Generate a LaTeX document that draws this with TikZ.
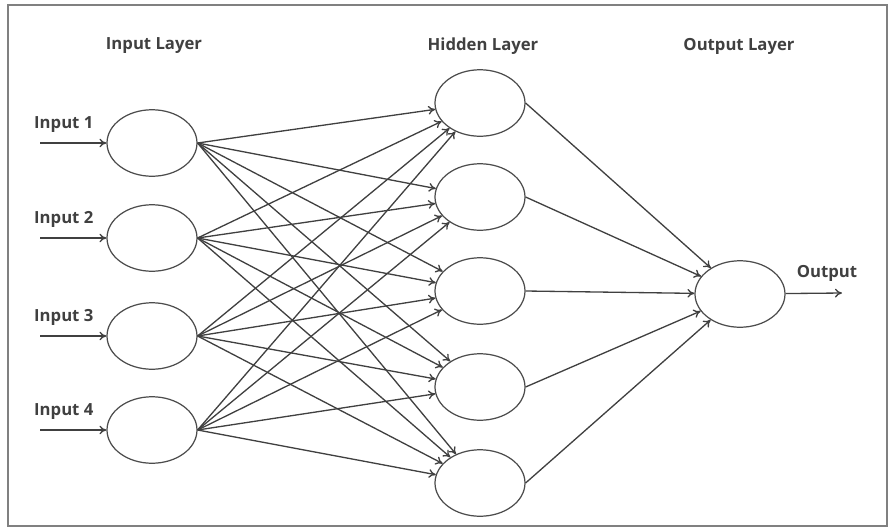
\documentclass[tikz,border=0pt]{standalone}
\usepackage{fontspec}
\setmainfont{Open Sans}
\usetikzlibrary{arrows.meta,shapes.geometric}

\begin{document}
\begin{tikzpicture}[x=0.02cm,y=-0.02cm,
  neuron/.style={draw=black!70,line width=0.7pt,ellipse,inner sep=0pt,minimum width=1.8cm,minimum height=1.33cm},
  wire/.style={draw=black!75,line width=0.75pt,-{To[length=4pt,width=5pt]}},
  lbl/.style={font=\fontsize{9.5}{11}\selectfont\bfseries,text=black!75}]
\useasboundingbox (0,0) rectangle (894,528);
\draw[black!50,line width=0.8pt] (8,5) rectangle (887,526);
% layer titles
\node[lbl] (tin) at (154,46) {Input Layer};
\node[lbl] (thid) at (483,46) {Hidden Layer};
\node[lbl] (tout) at (739,46) {Output Layer};
% neurons
\foreach \i/\y in {1/143,2/238,3/336,4/430}{
  \node[neuron] (in\i) at (152,\y) {};
  \coordinate (src\i) at (40,\y);
  \node[lbl,anchor=south west] (nin\i) at (28,\y-4) {Input \i};
  \draw[wire] (src\i) -- (in\i);
}
\foreach \j/\y in {1/103,2/197,3/291,4/387,5/483}
  \node[neuron] (h\j) at (480,\y) {};
\node[neuron] (out) at (740,294) {};
% connections
\foreach \i in {1,...,4}
  \foreach \j in {1,...,5}
    \draw[wire] (in\i.east) -- (h\j);
\foreach \j in {1,...,5}
  \draw[wire] (h\j.east) -- (out);
\coordinate (dst) at (842,293);
\draw[wire] (out) -- (dst);
\node[lbl] (nout) at (827,273) {Output};
\end{tikzpicture}
\end{document}
